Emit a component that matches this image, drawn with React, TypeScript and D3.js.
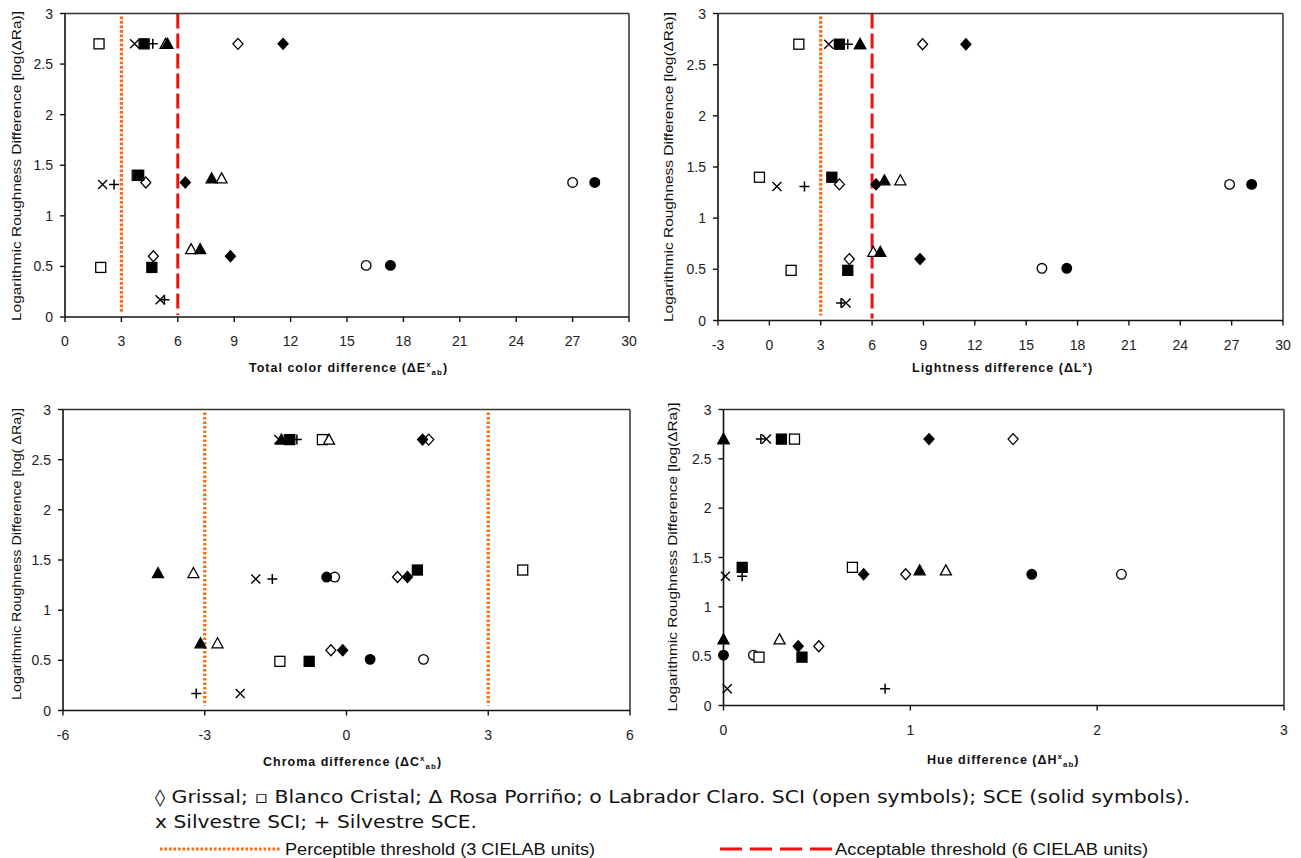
import React from "react";
import * as d3 from "d3";

// log(ΔRa) of each surface finish, per stone
const logRaGrissal = [2.7, 1.33, 0.6];
const logRaBlanco = [2.7, 1.4, 0.49];
const logRaRosa = [2.7, 1.37, 0.67];
const logRaLabrador = [1.33, 0.51];
const logRaSilvestre = [2.7, 1.31, 0.17];

// Total colour difference ΔE*ab
const dEGrissalSCI = [9.2, 4.3, 4.7];
const dEGrissalSCE = [11.6, 6.4, 8.8];
const dEBlancoSCI = [1.81, 3.84, 1.9];
const dEBlancoSCE = [4.21, 3.92, 4.62];
const dERosaSCI = [5.35, 8.33, 6.71];
const dERosaSCE = [5.45, 7.8, 7.19];
const dELabradorSCI = [27.0, 16.02];
const dELabradorSCE = [28.18, 17.31];
const dESilvestreSCI = [3.7, 2.0, 5.06];
const dESilvestreSCE = [4.67, 2.61, 5.29];

// Lightness difference ΔL*
const dLGrissalSCI = [8.95, 4.09, 4.67];
const dLGrissalSCE = [11.48, 6.23, 8.8];
const dLBlancoSCI = [1.72, -0.58, 1.27];
const dLBlancoSCE = [4.09, 3.65, 4.58];
const dLRosaSCI = [5.3, 7.65, 6.07];
const dLRosaSCE = [5.3, 6.72, 6.48];
const dLLabradorSCI = [26.88, 15.92];
const dLLabradorSCE = [28.17, 17.37];
const dLSilvestreSCI = [3.47, 0.44, 4.48];
const dLSilvestreSCE = [4.58, 2.05, 4.19];

// Chroma difference ΔC*ab
const dCGrissalSCI = [1.74, 1.08, -0.33];
const dCGrissalSCE = [1.61, 1.29, -0.08];
const dCBlancoSCI = [-0.51, 3.73, -1.41];
const dCBlancoSCE = [-1.2, 1.5, -0.79];
const dCRosaSCI = [-0.37, -3.24, -2.73];
const dCRosaSCE = [-1.38, -3.99, -3.09];
const dCLabradorSCI = [-0.25, 1.63];
const dCLabradorSCE = [-0.42, 0.5];
const dCSilvestreSCI = [-1.43, -1.92, -2.25];
const dCSilvestreSCE = [-1.05, -1.57, -3.18];

// Hue difference ΔH*ab
const dHGrissalSCI = [1.55, 0.975, 0.51];
const dHGrissalSCE = [1.1, 0.75, 0.4];
const dHBlancoSCI = [0.38, 0.69, 0.19];
const dHBlancoSCE = [0.31, 0.1, 0.42];
const dHRosaSCI = [0.0, 1.19, 0.3];
const dHRosaSCE = [0.0, 1.05, 0.0];
const dHLabradorSCI = [2.13, 0.16];
const dHLabradorSCE = [1.65, 0.0];
const dHSilvestreSCI = [0.23, 0.01, 0.02];
const dHSilvestreSCE = [0.2, 0.1, 0.865];

// Axis ticks
const yTicks = [0, 0.5, 1, 1.5, 2, 2.5, 3];
const xTicksE = [0, 3, 6, 9, 12, 15, 18, 21, 24, 27, 30];
const xTicksL = [-3, 0, 3, 6, 9, 12, 15, 18, 21, 24, 27, 30];
const xTicksC = [-6, -3, 0, 3, 6];
const xTicksH = [0, 1, 2, 3];

// CIELAB thresholds
const perceptible = 3;
const acceptable = 6;

type Shape = "diamond" | "square" | "triangle" | "circle" | "x" | "plus";
interface Series {
  shape: Shape;
  filled: boolean;
  logRa: number[];
  dE: number[];
  dL: number[];
  dC: number[];
  dH: number[];
}

// painting order (later entries sit on top)
const series: Series[] = [
  { shape: "x", filled: false, logRa: logRaSilvestre, dE: dESilvestreSCI, dL: dLSilvestreSCI, dC: dCSilvestreSCI, dH: dHSilvestreSCI },
  { shape: "circle", filled: false, logRa: logRaLabrador, dE: dELabradorSCI, dL: dLLabradorSCI, dC: dCLabradorSCI, dH: dHLabradorSCI },
  { shape: "diamond", filled: false, logRa: logRaGrissal, dE: dEGrissalSCI, dL: dLGrissalSCI, dC: dCGrissalSCI, dH: dHGrissalSCI },
  { shape: "square", filled: false, logRa: logRaBlanco, dE: dEBlancoSCI, dL: dLBlancoSCI, dC: dCBlancoSCI, dH: dHBlancoSCI },
  { shape: "triangle", filled: false, logRa: logRaRosa, dE: dERosaSCI, dL: dLRosaSCI, dC: dCRosaSCI, dH: dHRosaSCI },
  { shape: "circle", filled: true, logRa: logRaLabrador, dE: dELabradorSCE, dL: dLLabradorSCE, dC: dCLabradorSCE, dH: dHLabradorSCE },
  { shape: "diamond", filled: true, logRa: logRaGrissal, dE: dEGrissalSCE, dL: dLGrissalSCE, dC: dCGrissalSCE, dH: dHGrissalSCE },
  { shape: "square", filled: true, logRa: logRaBlanco, dE: dEBlancoSCE, dL: dLBlancoSCE, dC: dCBlancoSCE, dH: dHBlancoSCE },
  { shape: "triangle", filled: true, logRa: logRaRosa, dE: dERosaSCE, dL: dLRosaSCE, dC: dCRosaSCE, dH: dHRosaSCE },
  { shape: "plus", filled: false, logRa: logRaSilvestre, dE: dESilvestreSCE, dL: dLSilvestreSCE, dC: dCSilvestreSCE, dH: dHSilvestreSCE },
];

type Metric = "dE" | "dL" | "dC" | "dH";

interface PanelSpec {
  metric: Metric;
  left: number;
  right: number;
  top: number;
  bottom: number;
  domain: [number, number];
  ticks: number[];
  title: [string, string, string, string]; // main, superscript, subscript, closing
  titleX: number;
  titleY: number;
  yTitle: string;
  yTitleX: number;
  yTitleY: number;
  yTitleLen: number;
  lines: { v: number; kind: "dot" | "dash" }[];
}

const panels: PanelSpec[] = [
  {
    metric: "dE", left: 65, right: 629, top: 13.5, bottom: 317, domain: [0, 30], ticks: xTicksE,
    title: ["Total color difference (ΔE", "x", "ab", ")"], titleX: 249, titleY: 372,
    yTitle: "Logarithmic Roughness Difference [log(ΔRa)]", yTitleX: 21, yTitleY: 166, yTitleLen: 310,
    lines: [{ v: perceptible, kind: "dot" }, { v: acceptable, kind: "dash" }],
  },
  {
    metric: "dL", left: 718, right: 1283, top: 13.5, bottom: 320.5, domain: [-3, 30], ticks: xTicksL,
    title: ["Lightness difference (ΔL", "x", "", ")"], titleX: 912, titleY: 372,
    yTitle: "Logarithmic Roughness Difference [log(ΔRa)]", yTitleX: 673, yTitleY: 167, yTitleLen: 310,
    lines: [{ v: perceptible, kind: "dot" }, { v: acceptable, kind: "dash" }],
  },
  {
    metric: "dC", left: 63, right: 630, top: 409.5, bottom: 710.5, domain: [-6, 6], ticks: xTicksC,
    title: ["Chroma difference (ΔC", "x", "ab", ")"], titleX: 263, titleY: 766,
    yTitle: "Logarithmic Roughness  Difference [log( ΔRa)]", yTitleX: 21, yTitleY: 554, yTitleLen: 292,
    lines: [{ v: -perceptible, kind: "dot" }, { v: perceptible, kind: "dot" }],
  },
  {
    metric: "dH", left: 723.5, right: 1284, top: 409.5, bottom: 705.5, domain: [0, 3], ticks: xTicksH,
    title: ["Hue difference (ΔH", "x", "ab", ")"], titleX: 927, titleY: 764,
    yTitle: "Logarithmic Roughness Difference [log(ΔRa)]", yTitleX: 677, yTitleY: 557, yTitleLen: 309,
    lines: [],
  },
];

const ORANGE = "#ff6a10";
const RED = "#f01010";
const SANS = "'Liberation Sans', Arial, sans-serif";
const VERDANA = "'DejaVu Sans', Verdana, sans-serif";

function Marker({ shape, filled, x, y }: { shape: Shape; filled: boolean; x: number; y: number }) {
  const fill = filled ? "#000" : "#fff";
  const common = { stroke: "#000", strokeWidth: 1.3 };
  switch (shape) {
    case "square":
      return <rect x={x - 5} y={y - 5} width={10} height={10} fill={fill} {...common} />;
    case "diamond":
      return <path d={`M${x},${y - 5.5}L${x + 5},${y}L${x},${y + 5.5}L${x - 5},${y}Z`} fill={fill} {...common} />;
    case "triangle":
      return <path d={`M${x},${y - 5.5}L${x + 5.5},${y + 4.5}L${x - 5.5},${y + 4.5}Z`} fill={fill} {...common} />;
    case "circle":
      return <circle cx={x} cy={y} r={4.8} fill={fill} {...common} />;
    case "x":
      return <path d={`M${x - 4.5},${y - 4.5}L${x + 4.5},${y + 4.5}M${x - 4.5},${y + 4.5}L${x + 4.5},${y - 4.5}`} fill="none" stroke="#000" strokeWidth={1.4} />;
    case "plus":
      return <path d={`M${x - 5},${y}H${x + 5}M${x},${y - 5}V${y + 5}`} fill="none" stroke="#000" strokeWidth={1.5} />;
  }
}

function Panel({ p }: { p: PanelSpec }) {
  const x = d3.scaleLinear().domain(p.domain).range([p.left, p.right]);
  const y = d3.scaleLinear().domain([0, 3]).range([p.bottom, p.top]);
  return (
    <g>
      {/* threshold lines */}
      {p.lines.map((l, i) =>
        l.kind === "dot" ? (
          <line key={i} x1={x(l.v)} x2={x(l.v)} y1={y(2.97)} y2={y(0.05)} stroke={ORANGE} strokeWidth={3.2} strokeDasharray="2.6 1.9" />
        ) : (
          <line key={i} x1={x(l.v)} x2={x(l.v)} y1={y(3)} y2={y(0.02)} stroke={RED} strokeWidth={3} strokeDasharray="15 5" />
        )
      )}
      {/* frame */}
      <line x1={p.left} x2={p.right} y1={p.top} y2={p.top} stroke="#333" strokeWidth={1.5} />
      <line x1={p.right} x2={p.right} y1={p.top} y2={p.bottom} stroke="#333" strokeWidth={1.5} />
      <line x1={p.left} x2={p.right} y1={p.bottom} y2={p.bottom} stroke="#111" strokeWidth={1.6} />
      <line x1={p.left} x2={p.left} y1={p.top} y2={p.bottom} stroke="#111" strokeWidth={1.6} />
      {/* y axis */}
      {yTicks.map((t) => (
        <g key={"y" + t}>
          <line x1={p.left - 5} x2={p.left} y1={y(t)} y2={y(t)} stroke="#111" strokeWidth={1.4} />
          <text x={p.left - 12} y={y(t) + 5} textAnchor="end" fontSize={14} fontFamily={SANS} fill="#222">
            {String(t)}
          </text>
        </g>
      ))}
      {/* x axis */}
      {p.ticks.map((t) => (
        <g key={"x" + t}>
          <line x1={x(t)} x2={x(t)} y1={p.bottom} y2={p.bottom + 5} stroke="#111" strokeWidth={1.4} />
          <text x={x(t)} y={p.bottom + 29} textAnchor="middle" fontSize={14} fontFamily={SANS} fill="#222">
            {String(t)}
          </text>
        </g>
      ))}
      {/* titles */}
      <text
        transform={`translate(${p.yTitleX},${p.yTitleY}) rotate(-90)`}
        textAnchor="middle"
        fontSize={12.5}
        fontFamily={SANS}
        fill="#111"
        textLength={p.yTitleLen}
        lengthAdjust="spacingAndGlyphs"
      >
        {p.yTitle}
      </text>
      <text x={p.titleX} y={p.titleY} fontSize={12.5} fontWeight="bold" fontFamily={SANS} fill="#111" letterSpacing={1}>
        {p.title[0]}
        <tspan fontSize={8} dy={-5}>{p.title[1]}</tspan>
        {p.title[2] ? (
          <>
            <tspan fontSize={8} dy={8}>{p.title[2]}</tspan>
            <tspan dy={-3}>{p.title[3]}</tspan>
          </>
        ) : (
          <tspan dy={5}>{p.title[3]}</tspan>
        )}
      </text>
      {/* data */}
      {series.map((s, si) =>
        s.logRa.map((r, i) => (
          <Marker key={si + "-" + i} shape={s.shape} filled={s.filled} x={x(s[p.metric][i])} y={y(r)} />
        ))
      )}
    </g>
  );
}

export default function App() {
  return (
    <svg
      width={1301}
      height={858}
      viewBox="0 0 1301 858"
      style={{ position: "absolute", left: 0, top: 0, background: "#fff" }}
    >
      <rect x={0} y={0} width={1301} height={858} fill="#fff" />
      {panels.map((p, i) => (
        <Panel key={i} p={p} />
      ))}
      {/* key */}
      <text x={155} y={803} fontSize={17} fontFamily={VERDANA} fill="#111" textLength={1035} lengthAdjust="spacingAndGlyphs">
        ◊ Grissal; ▫ Blanco Cristal; Δ Rosa Porriño; o Labrador Claro. SCI (open symbols); SCE (solid symbols).
      </text>
      <text x={155} y={828} fontSize={17} fontFamily={VERDANA} fill="#111" textLength={322} lengthAdjust="spacingAndGlyphs">
        x Silvestre SCI; + Silvestre SCE.
      </text>
      <line x1={160} x2={280} y1={849} y2={849} stroke={ORANGE} strokeWidth={3} strokeDasharray="2.6 1.9" />
      <text x={285} y={855} fontSize={16} fontFamily={SANS} fill="#111" textLength={310} lengthAdjust="spacingAndGlyphs">
        Perceptible threshold (3 CIELAB units)
      </text>
      <line x1={720} x2={833} y1={849} y2={849} stroke={RED} strokeWidth={3} strokeDasharray="22 8" />
      <text x={835} y={855} fontSize={16} fontFamily={SANS} fill="#111" textLength={313} lengthAdjust="spacingAndGlyphs">
        Acceptable threshold (6 CIELAB units)
      </text>
    </svg>
  );
}
